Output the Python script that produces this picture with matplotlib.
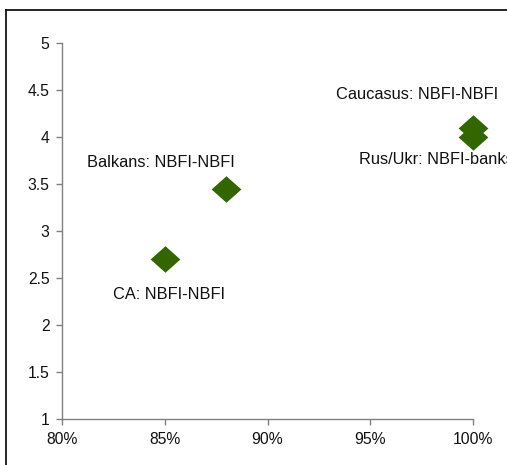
import matplotlib
matplotlib.use("Agg")
import matplotlib.pyplot as plt
from matplotlib.lines import Line2D
from matplotlib.ticker import FuncFormatter

plt.rcParams['font.family'] = ['Liberation Sans', 'DejaVu Sans']

# Share of funding (x) vs. score (y) per region
labels = ["CA: NBFI-NBFI", "Balkans: NBFI-NBFI", "Caucasus: NBFI-NBFI", "Rus/Ukr: NBFI-banks"]
x_share = [0.85, 0.88, 1.00, 1.00]
y_score = [2.7, 3.45, 4.1, 4.0]
x_ticks = [0.80, 0.85, 0.90, 0.95, 1.00]
y_ticks = [1, 1.5, 2, 2.5, 3, 3.5, 4, 4.5, 5]

W, H = 507, 465
fig = plt.figure(figsize=(W / 100, H / 100), dpi=100)
ax = fig.add_axes([62 / W, 1 - 419 / H, (473 - 62) / W, (419 - 43) / H])

# slightly flattened diamond
diamond = [(-1, 0), (0, 0.89), (1, 0), (0, -0.89), (-1, 0)]
ax.scatter(x_share, y_score, marker=diamond, s=460, color='#336600', linewidths=0,
           zorder=3, clip_on=False)

# label placement (pixel offsets from each marker)
offsets = [(4, -35, 'center'), (-66, 26, 'center'), (-56, 33, 'center'), (-114, -22, 'left')]
for lab, xv, yv, (dx, dy, ha) in zip(labels, x_share, y_score, offsets):
    ax.annotate(lab, (xv, yv), xytext=(dx, dy), textcoords='offset pixels',
                ha=ha, va='center', fontsize=11.8, color='#111111', annotation_clip=False)

ax.set_xlim(0.80, 1.00)
ax.set_ylim(1, 5)
ax.set_xticks(x_ticks)
ax.set_yticks(y_ticks)
ax.xaxis.set_major_formatter(FuncFormatter(lambda v, p: f"{v * 100:.0f}%"))
ax.yaxis.set_major_formatter(FuncFormatter(lambda v, p: f"{v:g}"))

for side in ('top', 'right'):
    ax.spines[side].set_visible(False)
for side in ('left', 'bottom'):
    ax.spines[side].set_color('#808080')
    ax.spines[side].set_linewidth(1.0)
ax.tick_params(axis='both', direction='out', length=4, width=1, color='#808080',
               labelsize=11.3, labelcolor='#111111')
ax.tick_params(axis='x', pad=5)
ax.tick_params(axis='y', pad=5)

# outer frame (top and left edges)
fig.add_artist(Line2D([6 / W, 1], [1 - 10 / H, 1 - 10 / H], color='black', lw=1.2, transform=fig.transFigure))
fig.add_artist(Line2D([6 / W, 6 / W], [0, 1 - 10 / H], color='black', lw=1.2, transform=fig.transFigure))

fig.savefig('out.png', dpi=100)
